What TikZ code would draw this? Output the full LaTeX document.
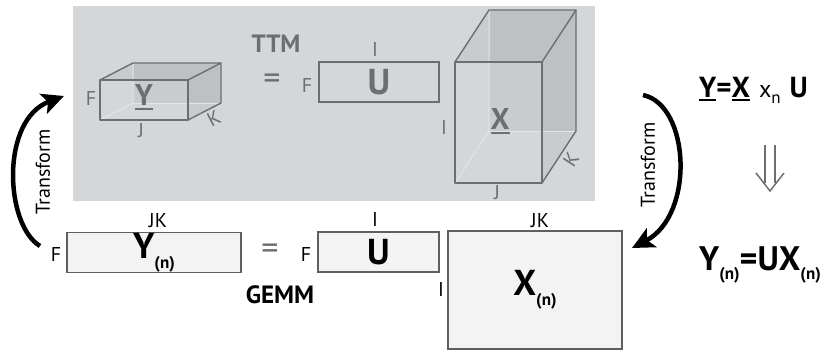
\documentclass[tikz,border=0pt]{standalone}
\usepackage{fontspec}
\setmainfont{PT Sans}
\usetikzlibrary{arrows.meta}
\definecolor{panel}{HTML}{D5D6D8}
\definecolor{tgray}{HTML}{6D6E71}
\definecolor{hid}{HTML}{E4E5E6}
\definecolor{boxfill}{HTML}{F3F3F3}
\definecolor{boxline}{HTML}{5E5F61}
\newcommand\myul[1]{\setbox0\hbox{#1}\hbox{\rlap{\rule[-4pt]{\wd0}{1.8pt}}\box0}}
\newcommand\subn[1]{\raisebox{-#1}{\fontsize{17}{17}\selectfont\bfseries (n)}}
\tikzset{
  lbl/.style={inner sep=0pt, font=\fontsize{20}{20}\selectfont},
  big/.style={inner sep=0pt, font=\fontsize{36}{36}\selectfont\bfseries},
  bbox/.style={draw=boxline, fill=boxfill, line width=1.4pt, inner sep=0pt},
  tbox/.style={draw=tgray, line width=1.4pt, inner sep=0pt},
  edge3d/.style={draw=tgray, line width=1.4pt, line join=round},
  hidden/.style={draw=hid, line width=1pt},
  face/.style={fill=black, fill opacity=0.05},
  bigarrow/.style={line width=4.5pt, -{Stealth[length=22pt,width=21pt,inset=5pt]}},
  eqsign/.style={inner sep=0pt, text=tgray, font=\fontsize{34}{34}\selectfont},
  implies/.style={draw=tgray, line width=1.5pt, line join=miter},
}
\begin{document}
\begin{tikzpicture}[x=1pt,y=-1pt]
\useasboundingbox (0,0) rectangle (826,351);
% panel
\fill[panel] (73,6) rectangle (595,201);

% ---- Y cube (top)
\fill[face] (133,63) -- (221,63) -- (221,103) -- (133,103) -- cycle;
\fill[face] (100,80) -- (133,63) -- (221,63) -- (188,80) -- cycle;
\fill[face] (188,80) -- (221,63) -- (221,103) -- (188,120) -- cycle;
\draw[hidden] (100,120) -- (133,103) -- (133,63);
\draw[hidden] (133,103) -- (221,103);
\draw[edge3d] (100,80) rectangle (188,120);
\draw[edge3d] (100,80) -- (133,63) -- (221,63) -- (188,80);
\draw[edge3d] (221,63) -- (221,103) -- (188,120);
\node[big, text=tgray, font=\fontsize{30}{30}\selectfont\bfseries] (ycube) at (144,97) {\myul{Y}};
\node[lbl, text=tgray] (yF) at (91,98) {F};
\node[lbl, text=tgray] (yJ) at (141,131) {J};
\node[lbl, text=tgray, rotate=27] (yK) at (214,118) {K};

% ---- top equals, TTM, U
\node[eqsign] (eqtop) at (272,82) {=};
\node[inner sep=0pt, text=tgray, font=\fontsize{25}{25}\selectfont\bfseries] (ttm) at (276,44) {TTM};
\node[tbox, minimum width=120, minimum height=40] (utop) at (379,82) {};
\node[big, text=tgray] (utoptxt) at (utop.center) {U};
\node[lbl, text=tgray] (utF) at (307,85) {F};
\node[lbl, text=tgray] (utI) at (375,49) {I};

% ---- X cube (top)
\fill[face] (489,10) -- (576,10) -- (576,131) -- (489,131) -- cycle;
\fill[face] (455,62) -- (489,10) -- (576,10) -- (542,62) -- cycle;
\fill[face] (542,62) -- (576,10) -- (576,131) -- (542,183) -- cycle;
\draw[hidden] (455,183) -- (489,131) -- (489,10);
\draw[hidden] (489,131) -- (576,131);
\draw[edge3d] (455,62) rectangle (542,183);
\draw[edge3d] (455,62) -- (489,10) -- (576,10) -- (542,62);
\draw[edge3d] (576,10) -- (576,131) -- (542,183);
\node[big, text=tgray, font=\fontsize{30}{30}\selectfont\bfseries] (xcube) at (500,121) {\myul{X}};
\node[lbl, text=tgray] (xI) at (444,127) {I};
\node[lbl, text=tgray] (xJ) at (497,193) {J};
\node[lbl, text=tgray, rotate=57] (xK) at (571,160) {K};

% ---- bottom row
\node[bbox, minimum width=174, minimum height=40] (yn) at (154,252.5) {};
\node[big] (yntxt) at (yn.center) {Y\subn{10pt}};
\node[lbl] (ynJK) at (158,221) {JK};
\node[lbl] (ynF) at (56,254) {F};
\node[eqsign] (eqbot) at (270,252) {=};
\node[bbox, minimum width=121, minimum height=40] (ub) at (378.5,252) {};
\node[big] (ubtxt) at (ub.center) {U};
\node[lbl] (ubF) at (306,254) {F};
\node[lbl] (ubI) at (375,219) {I};
\node[inner sep=0pt, font=\fontsize{25}{25}\selectfont\bfseries] (gemm) at (280,295) {GEMM};
\node[bbox, minimum width=174, minimum height=118] (xn) at (535,290) {};
\node[big] (xntxt) at (xn.center) {X\subn{10pt}};
\node[lbl] (xnJK) at (540,221) {JK};
\node[lbl] (xnI) at (441,289) {I};

% ---- transform arrows
\coordinate (la) at (40,246);
\coordinate (lb) at (64,96);
\draw[bigarrow] (la) .. controls (5,225) and (0,120) .. (lb);
\node[lbl, rotate=90, font=\fontsize{20}{20}\selectfont] (ltr) at (43,172) {Transform};
\coordinate (ra) at (643,95);
\coordinate (rb) at (632,248);
\draw[bigarrow] (ra) .. controls (690,105) and (695,215) .. (rb);
\node[lbl, rotate=90, font=\fontsize{20}{20}\selectfont] (rtr) at (648,165) {Transform};

% ---- right formulas
\node[anchor=base west, inner sep=0pt, font=\fontsize{29}{29}\selectfont\bfseries] (f1) at (699,97)
  {\myul{Y}=\myul{X}\hspace{9pt}{\mdseries\fontsize{24}{24}\selectfont x\raisebox{-6pt}{\fontsize{17}{17}\selectfont n}}\hspace{9pt}U};
\coordinate (ia1) at (765,145);
\coordinate (ib1) at (765,183);
\coordinate (ia2) at (775,145);
\coordinate (ib2) at (775,183);
\coordinate (ic) at (770,191);
\draw[implies] (ia1) -- (ib1);
\draw[implies] (ia2) -- (ib2);
\draw[implies] (756,173) -- (ic) -- (784,173);
\node[anchor=base west, inner sep=0pt, font=\fontsize{34}{34}\selectfont\bfseries] (f2) at (699,270)
  {Y\subn{9pt}=UX\subn{9pt}};
\end{tikzpicture}
\end{document}
